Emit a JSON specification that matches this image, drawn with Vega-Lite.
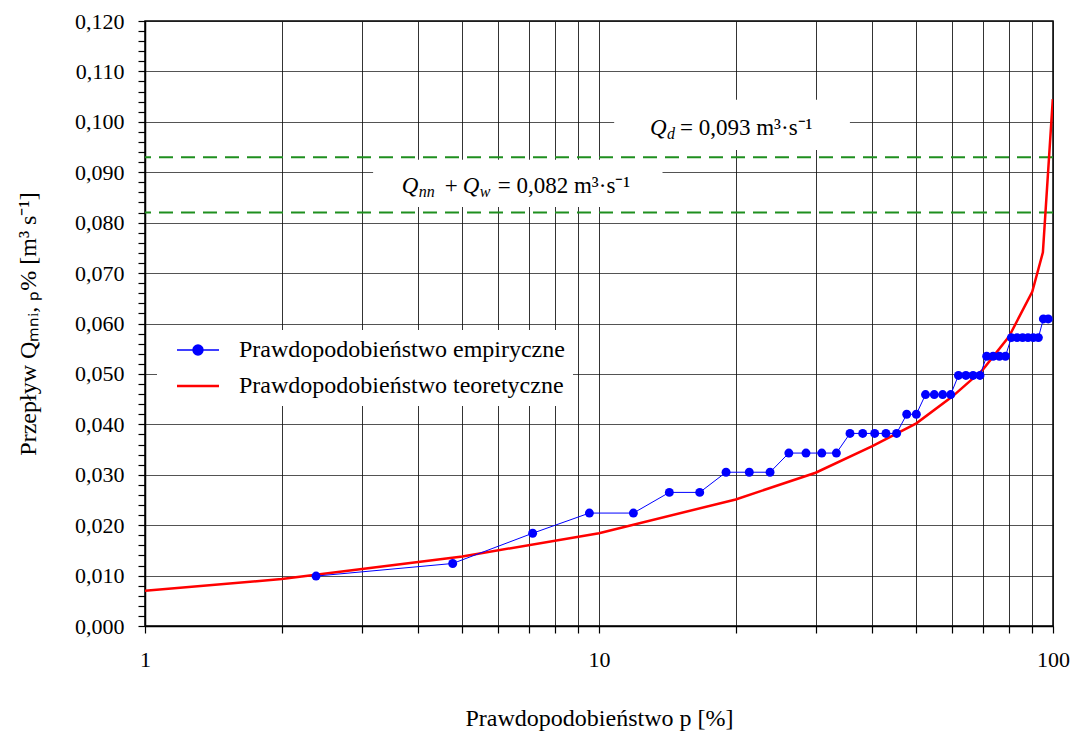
{
  "$schema": "https://vega.github.io/schema/vega-lite/v6.json",
  "autosize": {"type": "none"},
  "width": 908,
  "height": 605,
  "padding": {"left": 145, "top": 21, "right": 21, "bottom": 112},
  "background": "white",
  "config": {
    "view": {"stroke": "black", "strokeWidth": 1.5},
    "font": "Liberation Serif",
    "axis": {
      "labelFont": "Liberation Serif",
      "titleFont": "Liberation Serif",
      "labelColor": "black",
      "titleColor": "black",
      "titleFontWeight": "normal",
      "domainColor": "black",
      "domainWidth": 1.5,
      "tickColor": "black",
      "tickWidth": 1.2,
      "gridColor": "#111111",
      "gridWidth": 1,
      "gridOpacity": 0.85
    }
  },
  "datasets": {
    "emp": [
      {"p": 2.381, "Q": 0.0099, "series": "Prawdopodobieństwo empiryczne"},
      {"p": 4.762, "Q": 0.0124, "series": "Prawdopodobieństwo empiryczne"},
      {"p": 7.143, "Q": 0.0184, "series": "Prawdopodobieństwo empiryczne"},
      {"p": 9.524, "Q": 0.0224, "series": "Prawdopodobieństwo empiryczne"},
      {"p": 11.905, "Q": 0.0224, "series": "Prawdopodobieństwo empiryczne"},
      {"p": 14.286, "Q": 0.0265, "series": "Prawdopodobieństwo empiryczne"},
      {"p": 16.667, "Q": 0.0265, "series": "Prawdopodobieństwo empiryczne"},
      {"p": 19.048, "Q": 0.0305, "series": "Prawdopodobieństwo empiryczne"},
      {"p": 21.429, "Q": 0.0305, "series": "Prawdopodobieństwo empiryczne"},
      {"p": 23.810, "Q": 0.0305, "series": "Prawdopodobieństwo empiryczne"},
      {"p": 26.190, "Q": 0.0343, "series": "Prawdopodobieństwo empiryczne"},
      {"p": 28.571, "Q": 0.0343, "series": "Prawdopodobieństwo empiryczne"},
      {"p": 30.952, "Q": 0.0343, "series": "Prawdopodobieństwo empiryczne"},
      {"p": 33.333, "Q": 0.0343, "series": "Prawdopodobieństwo empiryczne"},
      {"p": 35.714, "Q": 0.0382, "series": "Prawdopodobieństwo empiryczne"},
      {"p": 38.095, "Q": 0.0382, "series": "Prawdopodobieństwo empiryczne"},
      {"p": 40.476, "Q": 0.0382, "series": "Prawdopodobieństwo empiryczne"},
      {"p": 42.857, "Q": 0.0382, "series": "Prawdopodobieństwo empiryczne"},
      {"p": 45.238, "Q": 0.0382, "series": "Prawdopodobieństwo empiryczne"},
      {"p": 47.619, "Q": 0.0420, "series": "Prawdopodobieństwo empiryczne"},
      {"p": 50.000, "Q": 0.0420, "series": "Prawdopodobieństwo empiryczne"},
      {"p": 52.381, "Q": 0.0459, "series": "Prawdopodobieństwo empiryczne"},
      {"p": 54.762, "Q": 0.0459, "series": "Prawdopodobieństwo empiryczne"},
      {"p": 57.143, "Q": 0.0459, "series": "Prawdopodobieństwo empiryczne"},
      {"p": 59.524, "Q": 0.0459, "series": "Prawdopodobieństwo empiryczne"},
      {"p": 61.905, "Q": 0.0497, "series": "Prawdopodobieństwo empiryczne"},
      {"p": 64.286, "Q": 0.0497, "series": "Prawdopodobieństwo empiryczne"},
      {"p": 66.667, "Q": 0.0497, "series": "Prawdopodobieństwo empiryczne"},
      {"p": 69.048, "Q": 0.0497, "series": "Prawdopodobieństwo empiryczne"},
      {"p": 71.429, "Q": 0.0535, "series": "Prawdopodobieństwo empiryczne"},
      {"p": 73.810, "Q": 0.0535, "series": "Prawdopodobieństwo empiryczne"},
      {"p": 76.190, "Q": 0.0535, "series": "Prawdopodobieństwo empiryczne"},
      {"p": 78.571, "Q": 0.0535, "series": "Prawdopodobieństwo empiryczne"},
      {"p": 80.952, "Q": 0.0572, "series": "Prawdopodobieństwo empiryczne"},
      {"p": 83.333, "Q": 0.0572, "series": "Prawdopodobieństwo empiryczne"},
      {"p": 85.714, "Q": 0.0572, "series": "Prawdopodobieństwo empiryczne"},
      {"p": 88.095, "Q": 0.0572, "series": "Prawdopodobieństwo empiryczne"},
      {"p": 90.476, "Q": 0.0572, "series": "Prawdopodobieństwo empiryczne"},
      {"p": 92.857, "Q": 0.0572, "series": "Prawdopodobieństwo empiryczne"},
      {"p": 95.238, "Q": 0.0609, "series": "Prawdopodobieństwo empiryczne"},
      {"p": 97.619, "Q": 0.0609, "series": "Prawdopodobieństwo empiryczne"}
    ],
    "teor": [
      {"p": 1, "Q": 0.0070, "series": "Prawdopodobieństwo teoretyczne"},
      {"p": 2, "Q": 0.0093, "series": "Prawdopodobieństwo teoretyczne"},
      {"p": 5, "Q": 0.0138, "series": "Prawdopodobieństwo teoretyczne"},
      {"p": 10, "Q": 0.0184, "series": "Prawdopodobieństwo teoretyczne"},
      {"p": 20, "Q": 0.0251, "series": "Prawdopodobieństwo teoretyczne"},
      {"p": 30, "Q": 0.0304, "series": "Prawdopodobieństwo teoretyczne"},
      {"p": 40, "Q": 0.0357, "series": "Prawdopodobieństwo teoretyczne"},
      {"p": 50, "Q": 0.0402, "series": "Prawdopodobieństwo teoretyczne"},
      {"p": 60, "Q": 0.0455, "series": "Prawdopodobieństwo teoretyczne"},
      {"p": 70, "Q": 0.0508, "series": "Prawdopodobieństwo teoretyczne"},
      {"p": 80, "Q": 0.0574, "series": "Prawdopodobieństwo teoretyczne"},
      {"p": 90, "Q": 0.0663, "series": "Prawdopodobieństwo teoretyczne"},
      {"p": 95, "Q": 0.0741, "series": "Prawdopodobieństwo teoretyczne"},
      {"p": 99.9, "Q": 0.1045, "series": "Prawdopodobieństwo teoretyczne"}
    ],
    "levels": [
      {"name": "Qd", "Q": 0.093},
      {"name": "Qnn+Qw", "Q": 0.082}
    ],
    "boxes": [
      {"name": "Qd", "p1": 10.8, "p2": 35.7, "q1": 0.0944, "q2": 0.1044},
      {"name": "Qnn+Qw", "p1": 3.18, "p2": 13.8, "q1": 0.0831, "q2": 0.0925}
    ],
    "ann": [
      {"name": "Qd", "p": 12.95, "Q": 0.0974},
      {"name": "Qnn+Qw", "p": 3.677, "Q": 0.0858}
    ]
  },
  "layer": [
    {
      "data": {"name": "boxes"},
      "mark": {"type": "rect", "fill": "white", "stroke": null},
      "encoding": {
        "x": {"field": "p1", "type": "quantitative", "scale": {"type": "log", "domain": [1, 100]}},
        "x2": {"field": "p2"},
        "y": {"field": "q1", "type": "quantitative", "scale": {"domain": [0, 0.12]}},
        "y2": {"field": "q2"}
      }
    },
    {
      "data": {"name": "levels"},
      "mark": {"type": "rule", "color": "#1f8f1f", "strokeWidth": 2, "strokeDash": [14, 8]},
      "encoding": {
        "y": {"field": "Q", "type": "quantitative"}
      }
    },
    {
      "data": {"name": "teor"},
      "mark": {"type": "line", "strokeWidth": 2.5, "clip": true},
      "encoding": {
        "x": {"field": "p", "type": "quantitative"},
        "y": {"field": "Q", "type": "quantitative"},
        "color": {"field": "series", "type": "nominal"}
      }
    },
    {
      "data": {"name": "emp"},
      "mark": {"type": "line", "strokeWidth": 1, "point": {"filled": true, "size": 80, "opacity": 1}},
      "encoding": {
        "x": {
          "field": "p", "type": "quantitative",
          "scale": {"type": "log", "domain": [1, 100]},
          "axis": {
            "title": "Prawdopodobieństwo p [%]",
            "titleFont": "Liberation Serif",
            "labelFont": "Liberation Serif",
            "titleFontSize": 24,
            "titlePadding": 36,
            "tickCount": 100,
            "values": [1, 2, 3, 4, 5, 6, 7, 8, 9, 10, 20, 30, 40, 50, 60, 70, 80, 90, 100],
            "labelExpr": "(datum.value == 1 || datum.value == 10 || datum.value == 100) ? format(datum.value, 'd') : ''",
            "labelFontSize": 22,
            "labelPadding": 16,
            "labelFlush": false,
            "labelOverlap": false,
            "tickSize": 7,
            "grid": true
          }
        },
        "y": {
          "field": "Q", "type": "quantitative",
          "scale": {"domain": [0, 0.12]},
          "axis": {
            "title": "Przepływ Qₘₙᵢ, ₚ% [m³ s⁻¹]",
            "titleFont": "Liberation Serif",
            "labelFont": "Liberation Serif",
            "titleFontSize": 24,
            "titlePadding": 34,
            "tickCount": 100,
            "values": [0, 0.002, 0.004, 0.006, 0.008, 0.01, 0.012, 0.014, 0.016, 0.018, 0.02, 0.022, 0.024, 0.026, 0.028, 0.03, 0.032, 0.034, 0.036, 0.038, 0.04, 0.042, 0.044, 0.046, 0.048, 0.05, 0.052, 0.054, 0.056, 0.058, 0.06, 0.062, 0.064, 0.066, 0.068, 0.07, 0.072, 0.074, 0.076, 0.078, 0.08, 0.082, 0.084, 0.086, 0.088, 0.09, 0.092, 0.094, 0.096, 0.098, 0.1, 0.102, 0.104, 0.106, 0.108, 0.11, 0.112, 0.114, 0.116, 0.118, 0.12],
            "labelExpr": "abs(datum.value * 100 - round(datum.value * 100)) < 0.001 ? replace(format(datum.value, '.3f'), '.', ',') : ''",
            "labelFontSize": 22,
            "labelPadding": 14,
            "labelOverlap": false,
            "labelFlush": false,
            "tickSize": 7,
            "grid": true,
            "gridOpacity": {"condition": {"test": "abs(datum.value * 100 - round(datum.value * 100)) < 0.001", "value": 0.85}, "value": 0}
          }
        },
        "color": {
          "field": "series", "type": "nominal",
          "scale": {"domain": ["Prawdopodobieństwo empiryczne", "Prawdopodobieństwo teoretyczne"], "range": ["#0000ff", "#ff0000"]},
          "legend": {
            "title": null,
            "orient": "none",
            "legendX": 12,
            "legendY": 309,
            "padding": 8,
            "fillColor": "white",
            "strokeColor": null,
            "labelFont": "Liberation Serif",
            "labelFontSize": 24,
            "labelColor": "black",
            "labelLimit": 0,
            "labelOffset": 50,
            "rowPadding": 12,
            "symbolSize": 900,
            "encode": {
              "symbols": {
                "update": {
                  "shape": {"signal": "datum.value === 'Prawdopodobieństwo empiryczne' ? 'M0,0H2.8M1.07,0A0.33,0.33 0 1,1 1.73,0A0.33,0.33 0 1,1 1.07,0Z' : 'M0,0H2.8'"},
                  "fill": {"signal": "datum.value === 'Prawdopodobieństwo empiryczne' ? '#0000ff' : 'transparent'"},
                  "stroke": {"signal": "datum.value === 'Prawdopodobieństwo empiryczne' ? '#4d4dff' : '#ff0000'"},
                  "strokeWidth": {"signal": "datum.value === 'Prawdopodobieństwo empiryczne' ? 1.5 : 2.5"},
                  "opacity": {"value": 1},
                  "fillOpacity": {"value": 1},
                  "strokeOpacity": {"value": 1}
                }
              }
            }
          }
        }
      }
    },
    {
      "data": {"name": "ann"},
      "transform": [{"filter": "datum.name == 'Qd'"}],
      "layer": [
        {"mark": {"type": "text", "text": "Q", "font": "Liberation Serif", "fontSize": 23, "fontStyle": "italic", "align": "left", "baseline": "alphabetic", "color": "black"}},
        {"mark": {"type": "text", "text": "d", "font": "Liberation Serif", "fontSize": 16, "fontStyle": "italic", "align": "left", "baseline": "alphabetic", "dx": 17, "dy": 4, "color": "black"}},
        {"mark": {"type": "text", "text": "= 0,093 m³·s⁻¹", "font": "Liberation Serif", "fontSize": 23, "align": "left", "baseline": "alphabetic", "dx": 30, "color": "black"}}
      ],
      "encoding": {
        "x": {"field": "p", "type": "quantitative"},
        "y": {"field": "Q", "type": "quantitative"}
      }
    },
    {
      "data": {"name": "ann"},
      "transform": [{"filter": "datum.name == 'Qnn+Qw'"}],
      "layer": [
        {"mark": {"type": "text", "text": "Q", "font": "Liberation Serif", "fontSize": 23, "fontStyle": "italic", "align": "left", "baseline": "alphabetic", "color": "black"}},
        {"mark": {"type": "text", "text": "nn", "font": "Liberation Serif", "fontSize": 16, "fontStyle": "italic", "align": "left", "baseline": "alphabetic", "dx": 17, "dy": 4, "color": "black"}},
        {"mark": {"type": "text", "text": "+", "font": "Liberation Serif", "fontSize": 23, "align": "left", "baseline": "alphabetic", "dx": 43, "color": "black"}},
        {"mark": {"type": "text", "text": "Q", "font": "Liberation Serif", "fontSize": 23, "fontStyle": "italic", "align": "left", "baseline": "alphabetic", "dx": 61, "color": "black"}},
        {"mark": {"type": "text", "text": "w", "font": "Liberation Serif", "fontSize": 16, "fontStyle": "italic", "align": "left", "baseline": "alphabetic", "dx": 78, "dy": 4, "color": "black"}},
        {"mark": {"type": "text", "text": "= 0,082 m³·s⁻¹", "font": "Liberation Serif", "fontSize": 23, "align": "left", "baseline": "alphabetic", "dx": 96, "color": "black"}}
      ],
      "encoding": {
        "x": {"field": "p", "type": "quantitative"},
        "y": {"field": "Q", "type": "quantitative"}
      }
    }
  ]
}
